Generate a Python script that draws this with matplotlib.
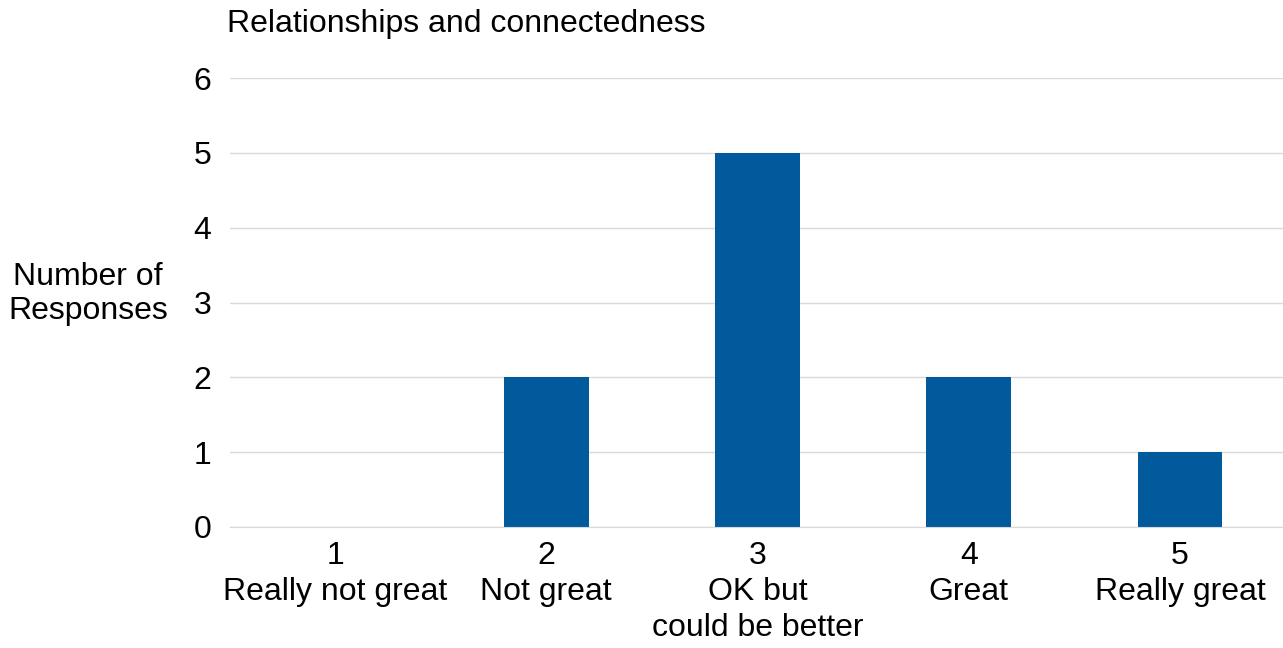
import matplotlib
matplotlib.use("Agg")
import matplotlib.pyplot as plt

categories = ["1\nReally not great", "2\nNot great", "3\nOK but\ncould be better", "4\nGreat", "5\nReally great"]
values = [0, 2, 5, 2, 1]
yticks = [0, 1, 2, 3, 4, 5, 6]

plt.rcParams['font.family'] = ['Liberation Sans', 'DejaVu Sans']

fig = plt.figure(figsize=(12.83, 6.48), dpi=100)
ax = fig.add_axes([229.5/1283, 121/648, 1056/1283, 449/648])

x = range(len(categories))
ax.bar(x, values, width=0.4, color="#005A9C", zorder=3)
ax.set_xlim(-0.5, 4.5)
ax.set_ylim(0, 6)
ax.set_yticks(yticks)
ax.set_xticks(list(x))
ax.set_xticklabels(categories, fontsize=23, linespacing=1.27)
ax.tick_params(axis='y', labelsize=23, length=0, pad=13)
ax.tick_params(axis='x', length=0, pad=10)
ax.grid(axis='y', color="#d9d9d9", linewidth=1, zorder=0)
for s in ["top", "right", "left"]:
    ax.spines[s].set_visible(False)
ax.spines["bottom"].set_color("#d9d9d9")
ax.spines["bottom"].set_zorder(4)

fig.text(227/1283, 1 - 24/648, "Relationships and connectedness", fontsize=23, va="center", ha="left")
fig.text(88/1283, 1 - 294/648, "Number of\nResponses", fontsize=23, va="center", ha="center", linespacing=1.2)

fig.savefig("out.png", dpi=100)
